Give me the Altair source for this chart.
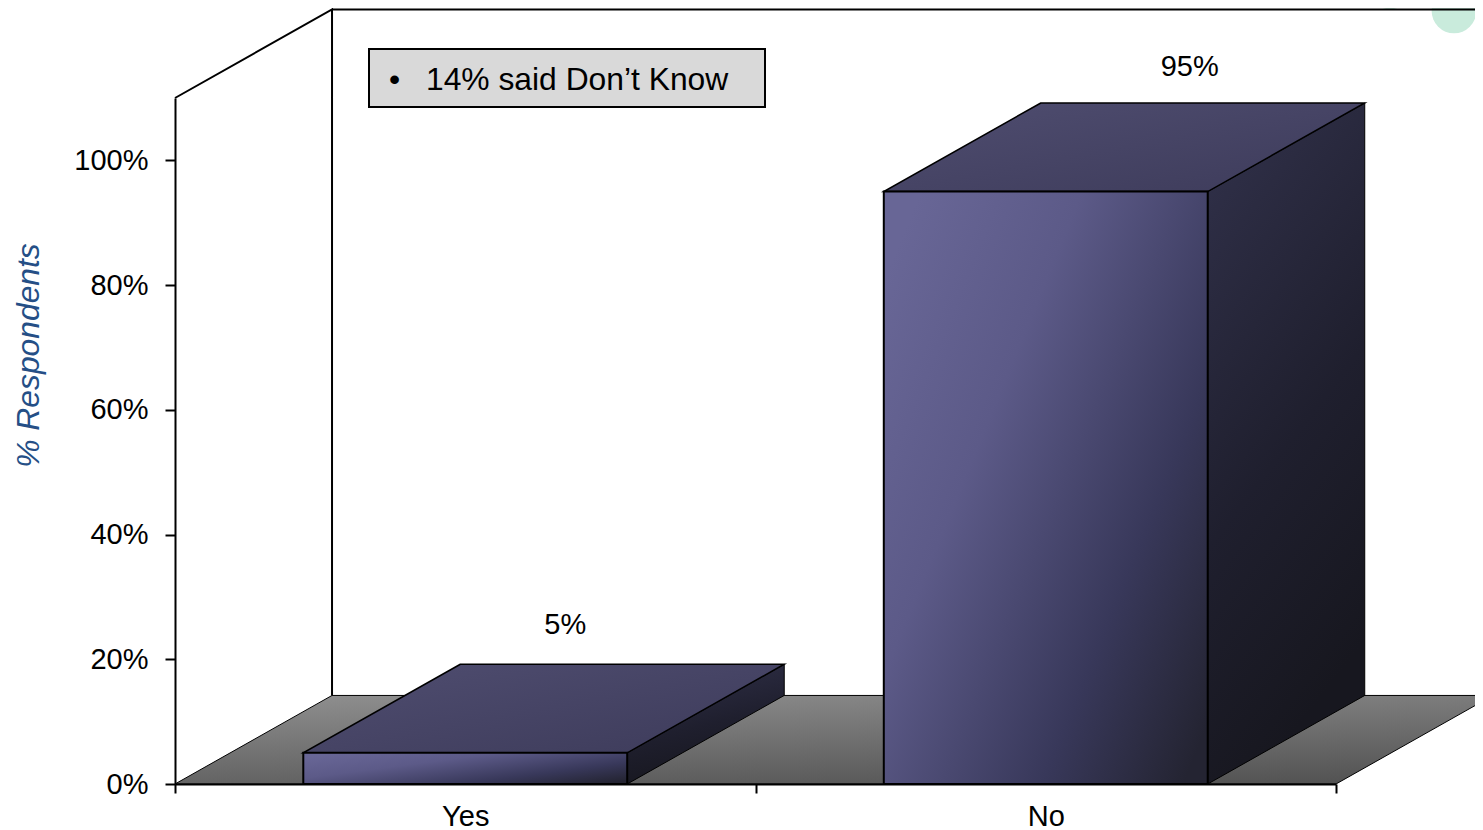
import altair as alt
import pandas as pd

categories = ["Yes", "No"]
values = [5, 95]
value_labels = ["5%", "95%"]
y_ticks = [0, 20, 40, 60, 80, 100]
note = "14% said Don\u2019t Know"

# 3-D projection of the chart box in data units
DX = 0.2705
DY = 14.2
BAR_HALF = 0.2790
Y_TOP = 110
FONT = "Liberation Sans"

XS = alt.Scale(domain=[0, 2], nice=False, zero=False)
YS = alt.Scale(domain=[0, Y_TOP], nice=False, zero=False)


def grad(stops, x1=0, y1=0, x2=1, y2=1):
    return alt.LinearGradient(
        gradient="linear", x1=x1, y1=y1, x2=x2, y2=y2,
        stops=[alt.GradientStop(color=c, offset=o) for o, c in stops],
    )


FRONT = grad([(0, "#686696"), (0.32, "#5c5a88"), (0.72, "#38385a"), (1, "#242432")], 0, 0.15, 1, 0.9)
TOP = grad([(0, "#4f4d70"), (1, "#3d3b5a")], 0, 0, 1, 1)
SIDE = grad([(0, "#32324c"), (0.6, "#1f1f2e"), (1, "#17171f")], 0, 0, 0.3, 1)
FLOOR = grad([(0, "#909090"), (1, "#505050")], 0, 0, 0.548, 1.205)

front, top, side = [], [], []
for i, (c, v) in enumerate(zip(categories, values)):
    x0, x1 = i + 0.5 - BAR_HALF, i + 0.5 + BAR_HALF
    front.append(dict(c=c, x0=x0, x1=x1, y0=0, y1=v))
    top += [dict(c=c, y=v, x0=x0, x1=x1), dict(c=c, y=v + DY, x0=x0 + DX, x1=x1 + DX)]
    side += [dict(c=c, x=x1, y0=0, y1=v), dict(c=c, x=x1 + DX, y0=DY, y1=v + DY)]

front = pd.DataFrame(front)
top = pd.DataFrame(top)
side = pd.DataFrame(side)
floor = pd.DataFrame([dict(y=0, x0=0, x1=2), dict(y=DY, x0=DX, x1=2 + DX)])
walls = pd.DataFrame(
    [
        dict(g="a", o=0, x=0, y=Y_TOP),
        dict(g="a", o=1, x=DX, y=Y_TOP + DY),
        dict(g="a", o=2, x=DX, y=DY),
        dict(g="b", o=0, x=DX, y=Y_TOP + DY),
        dict(g="b", o=1, x=2.4, y=Y_TOP + DY),
    ]
)
cats = pd.DataFrame({"c": categories, "v": values, "t": value_labels})
cats["cx"] = [i + 0.5 for i in range(len(categories))]

X = lambda f: alt.X(f, type="quantitative", scale=XS, axis=None)
Y = lambda f: alt.Y(f, type="quantitative", scale=YS, axis=None)

# nominal layer that carries the category axis
axis_x = alt.Chart(cats).mark_rule(opacity=0).encode(
    x=alt.X(
        "c:N",
        sort=categories,
        scale=alt.Scale(paddingInner=0, paddingOuter=0),
        title=None,
        axis=alt.Axis(
            tickBand="extent", labelAngle=0, labelFontSize=29, labelFont=FONT,
            labelColor="black", domainColor="black", domainWidth=2, tickColor="black",
            tickWidth=2, tickSize=9, labelPadding=9, grid=False, zindex=1,
        ),
    ),
)
# quantitative layer that carries the y axis
axis_y = alt.Chart(cats).mark_tick(opacity=0).encode(
    y=alt.Y(
        "v:Q",
        scale=YS,
        axis=alt.Axis(
            orient="left", values=y_ticks, labelExpr="datum.value + '%'", labelFontSize=29,
            labelFont=FONT, labelColor="black", domainColor="black", domainWidth=2,
            tickColor="black", tickWidth=2, tickSize=10, labelPadding=17, grid=False,
            title="% Respondents", titleFont=FONT, titleFontSize=31.8, titleFontStyle="italic",
            titleFontWeight="normal", titleColor="#254f86", titleAngle=270, titleAlign="center",
            titleBaseline="middle", titleX=-147, titleY=257, zindex=1,
        ),
    ),
)

floor_l = alt.Chart(floor).mark_area(orient="horizontal", fill=FLOOR, stroke="black", strokeWidth=1).encode(
    y=Y("y"), x=X("x0"), x2="x1"
)
walls_l = alt.Chart(walls).mark_line(color="black", strokeWidth=2).encode(
    x=X("x"), y=Y("y"), order="o:Q", detail="g:N"
)
side_l = alt.Chart(side).mark_area(orient="vertical", fill=SIDE, stroke="black", strokeWidth=1).encode(
    x=X("x"), y=Y("y0"), y2="y1", detail="c:N"
)
top_l = alt.Chart(top).mark_area(orient="horizontal", fill=TOP, stroke="black", strokeWidth=1.5).encode(
    y=Y("y"), x=X("x0"), x2="x1", detail="c:N"
)
front_l = alt.Chart(front).mark_rect(fill=FRONT, stroke="black", strokeWidth=2).encode(
    x=X("x0"), x2="x1", y=Y("y0"), y2="y1"
)

yes_t = alt.Chart(cats[cats.c == "Yes"]).mark_text(
    font=FONT, fontSize=29, color="black", dx=100, dy=-128
).encode(x=X("cx"), y=Y("v"), text="t:N")
no_t = alt.Chart(cats[cats.c == "No"]).mark_text(
    font=FONT, fontSize=29, color="black", dx=144, dy=-125
).encode(x=X("cx"), y=Y("v"), text="t:N")

# decorative blobs of the slide behind the chart, and the note box (pixels within the plot area)
one = pd.DataFrame({"a": [0]})
blob1 = alt.Chart(one).mark_circle(color="#c9ebdc", opacity=1, size=1520).encode(
    x=alt.value(1215), y=alt.value(-108)
)
blob2 = alt.Chart(one).mark_circle(color="#c9ebdc", opacity=1, size=2000).encode(
    x=alt.value(1279), y=alt.value(-87)
)

note_box = alt.Chart(one).mark_rect(fill="#d9d9d9", stroke="black", strokeWidth=2).encode(
    x=alt.value(194), x2=alt.value(590), y=alt.value(-49), y2=alt.value(9)
)
note_b = alt.Chart(pd.DataFrame({"t": ["\u2022"]})).mark_text(
    font=FONT, fontSize=31.8, color="black", align="left", baseline="middle"
).encode(x=alt.value(214), y=alt.value(-18), text="t:N")
note_t = alt.Chart(pd.DataFrame({"t": [note]})).mark_text(
    font=FONT, fontSize=31.8, color="black", align="left", baseline="middle"
).encode(x=alt.value(251), y=alt.value(-18), text="t:N")

chart = (
    alt.layer(
        blob1, blob2, axis_y, axis_x, floor_l, walls_l, side_l, top_l, front_l, yes_t, no_t, note_box, note_b, note_t
    )
    .resolve_scale(x="independent", y="shared")
    .resolve_axis(x="independent", y="independent")
    .properties(
        width=1161,
        height=686,
        padding={"left": 167, "right": 139, "top": 90, "bottom": 56},
        autosize=alt.AutoSizeParams(type="none"),
        background="white",
    )
    .configure_view(stroke=None)
)

chart.save("out.html", embed_options={"renderer": "svg", "actions": False})
